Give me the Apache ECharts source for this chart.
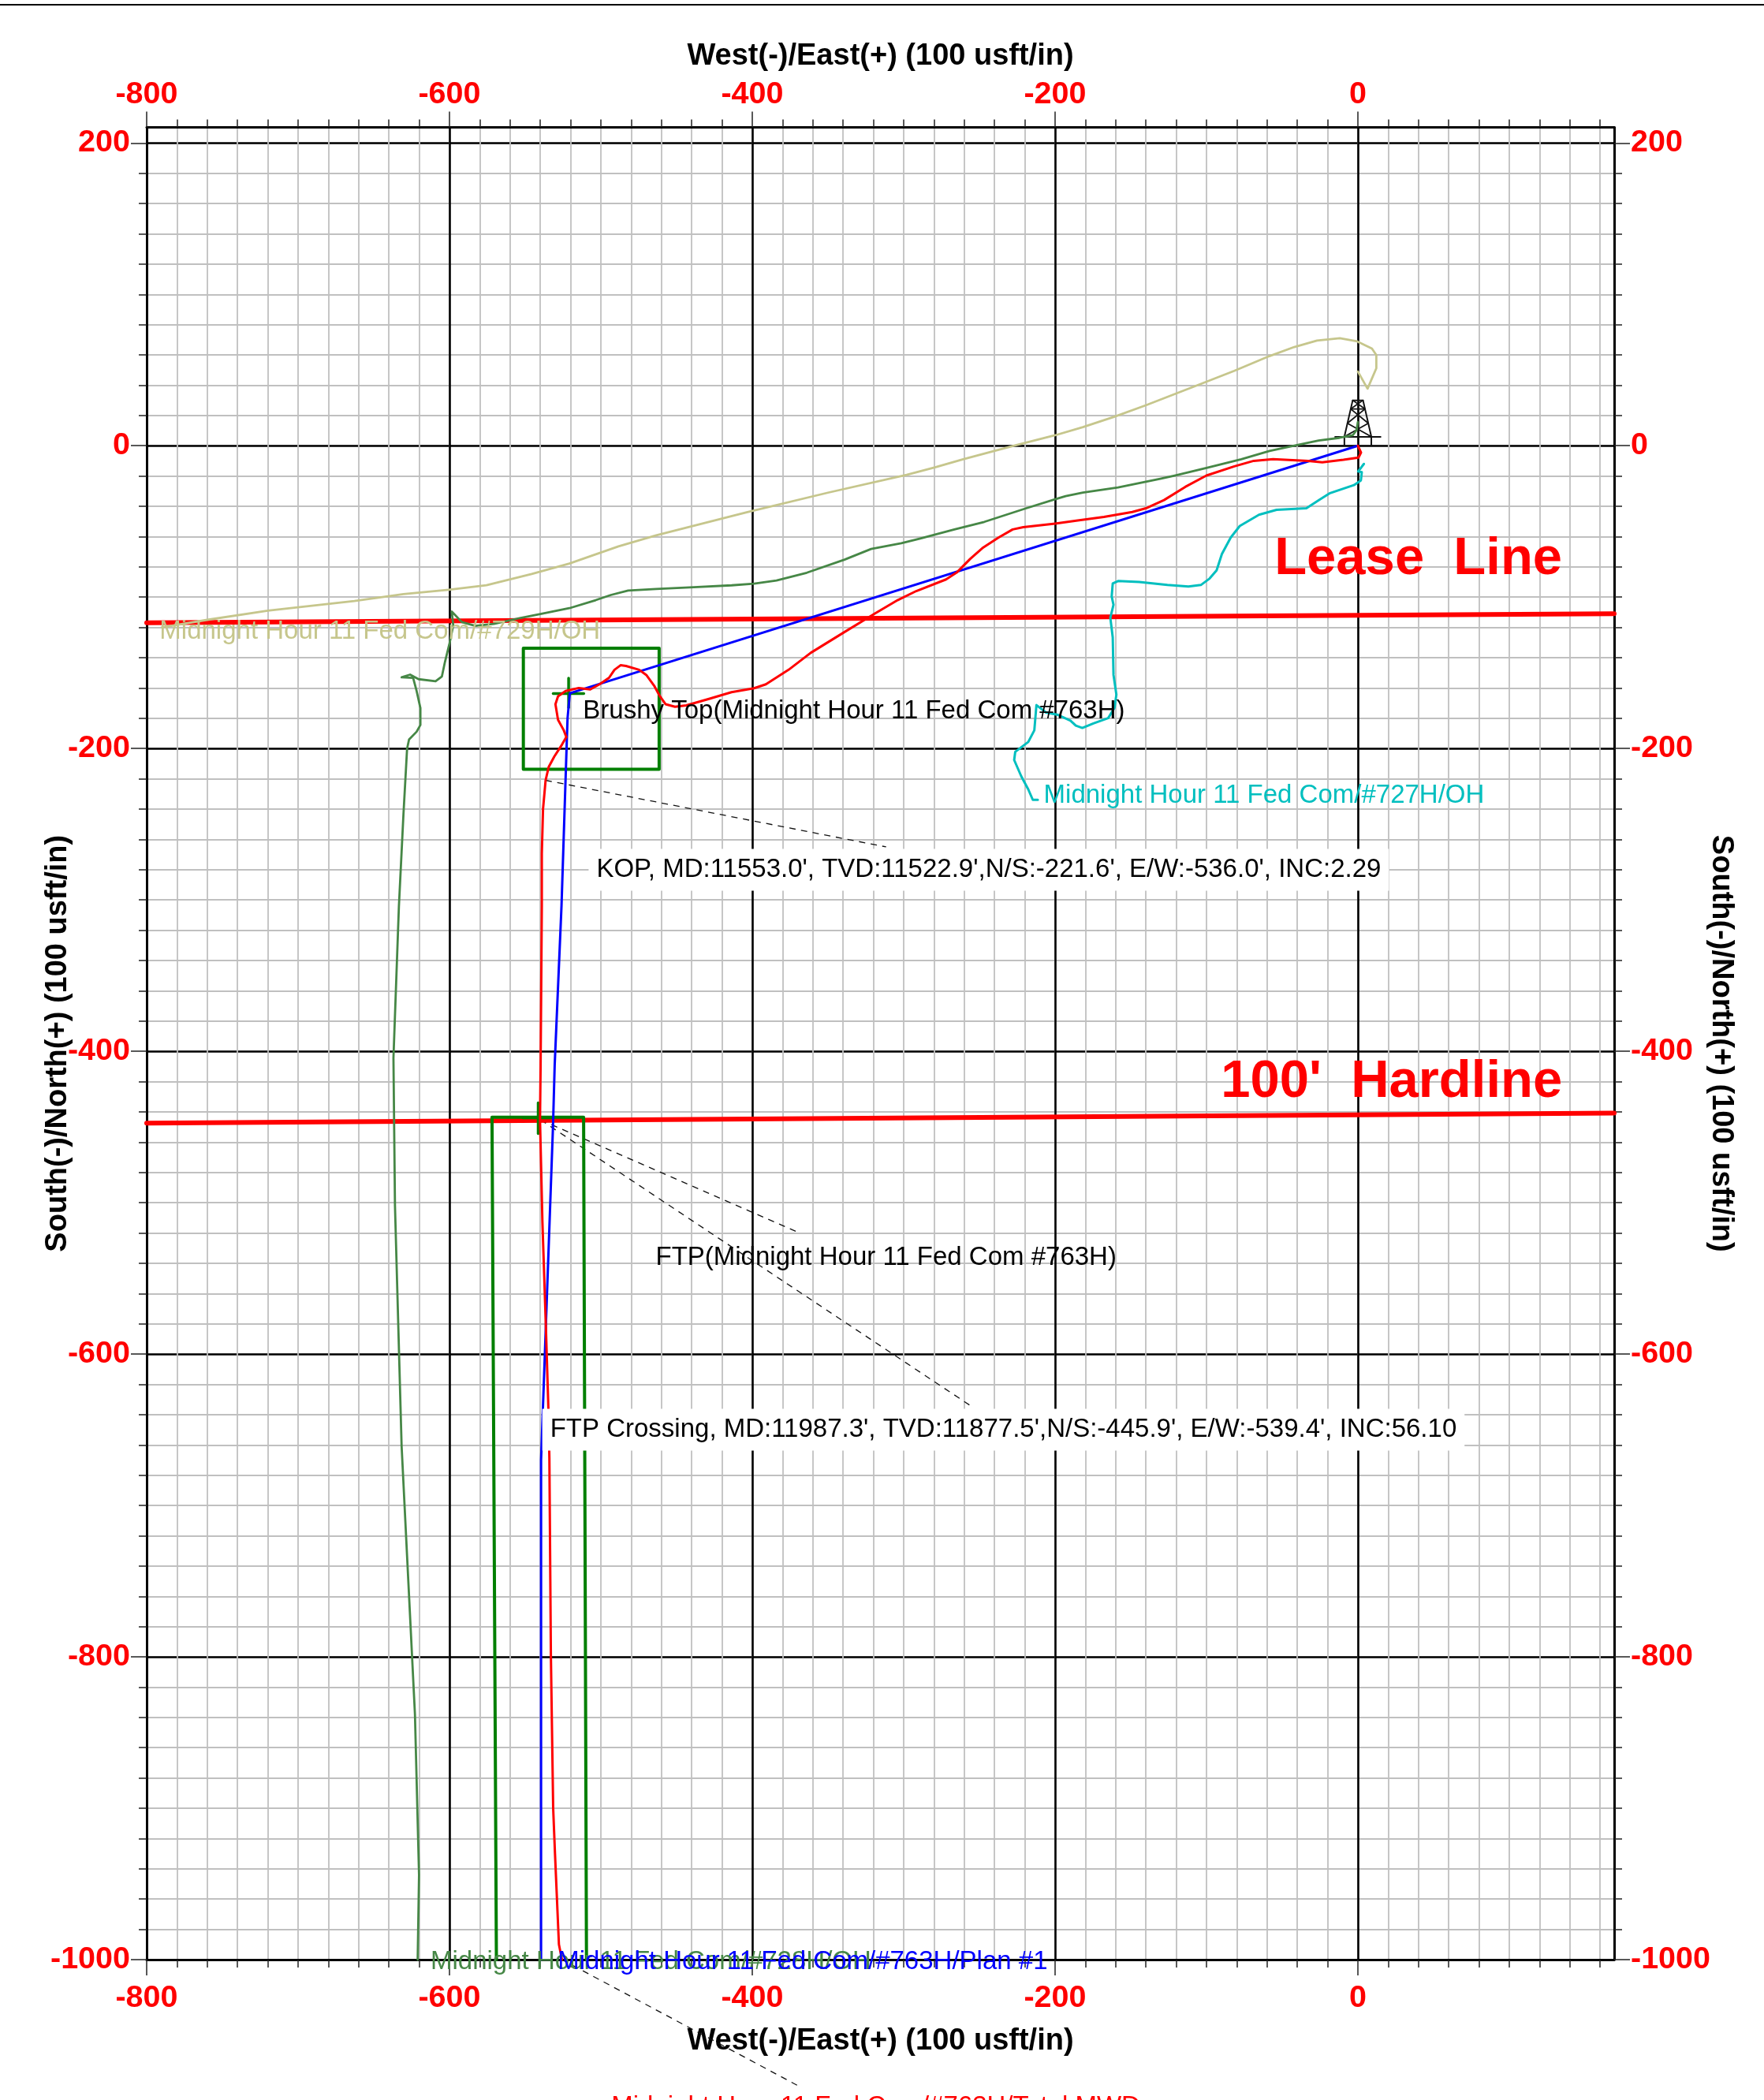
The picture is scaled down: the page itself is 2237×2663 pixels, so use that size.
<!DOCTYPE html>
<html><head><meta charset="utf-8">
<style>html,body{margin:0;padding:0;background:#fff}#c{width:2237px;height:2663px}</style>
<script src="https://cdn.jsdelivr.net/npm/echarts@6/dist/echarts.min.js"></script>
</head><body><div id="c"></div>
<script>
const xTicks=[-800,-600,-400,-200,0];
const yTicks=[200,0,-200,-400,-600,-800,-1000];
const planWell=[[0,0],[-520.5,-163.5],[-522,-180],[-522.5,-195],[-526,-304],[-530.5,-409],[-531.6,-449],[-537,-600],[-539.5,-670],[-539.5,-1000]];
const mwdWell=[[0,0],[2.1,-4.5],[0.5,-7.8],[-9.5,-9.3],[-23.5,-11],[-32.8,-10],[-56,-8.9],[-68.8,-10],[-81.6,-13.6],[-100,-19.7],[-114,-27.2],[-128,-35.9],[-140,-41.3],[-149,-43.8],[-167.7,-47],[-186,-49.5],[-200,-51.4],[-221,-53.8],[-228,-55.3],[-237.4,-60.7],[-248,-67.6],[-256,-74.7],[-265,-83.8],[-272,-88.3],[-291.7,-96],[-304,-102],[-319,-110.8],[-339,-123],[-361.4,-136.8],[-376,-148],[-391,-157.6],[-398.8,-160.2],[-413.7,-162.8],[-428.6,-167.2],[-443.6,-171.5],[-451,-172.4],[-457.3,-170.7],[-461,-165.5],[-464.8,-158.5],[-469.8,-151.6],[-474.7,-148],[-483.4,-145.5],[-487,-145],[-491,-148],[-494.6,-153.3],[-500.9,-157.6],[-507,-161],[-514.6,-160],[-523.3,-162],[-528.3,-165.5],[-530,-170.7],[-528.3,-181],[-524.5,-188],[-522.8,-192.4],[-525.8,-197.6],[-530.8,-205.4],[-534.5,-212.3],[-536.5,-221],[-538.2,-240],[-539,-269.6],[-539,-304],[-539.8,-409],[-540.2,-445.3],[-538.6,-513],[-536.3,-582.5],[-534.7,-634.6],[-534,-669],[-533,-800],[-531.5,-900],[-530.3,-930],[-527.7,-990],[-525.7,-1000]];
const well728=[[0,15.6],[-0.8,10.4],[-3.4,6.9],[-12.2,5.2],[-25.9,3.4],[-42,0],[-58.4,-3.5],[-77,-8.9],[-100,-14.7],[-121,-19.7],[-130.5,-21.8],[-158.4,-27.6],[-181.6,-30.9],[-193,-33.3],[-200,-35.4],[-219,-41.3],[-246.7,-50.3],[-266.5,-55.3],[-289,-61.3],[-301.6,-64.4],[-321.5,-68.2],[-339,-75.2],[-364,-83.9],[-384,-89],[-398.8,-91.1],[-413.7,-92.2],[-438.6,-93.4],[-463.5,-94.6],[-482,-95.7],[-493.4,-98.6],[-503.4,-102],[-520.8,-107.3],[-538,-110.8],[-553,-113.7],[-570.6,-117.7],[-583,-119],[-591.8,-116.5],[-598.5,-109.5],[-597.5,-118.6],[-600,-130.7],[-603,-142.9],[-605,-152.4],[-609.2,-155.6],[-620.4,-154.2],[-626,-151.2],[-631.6,-153],[-624,-153.3],[-621.7,-162],[-619.2,-173.3],[-619.2,-184.5],[-621.7,-188.9],[-626.7,-194],[-628,-200.2],[-630.4,-243.6],[-633.4,-304.3],[-637,-404.5],[-636,-501.8],[-631.6,-661],[-622.8,-838],[-620.1,-944],[-621,-1000]];
const well729=[[0,49],[6.4,37.7],[12.2,51.2],[12.2,59.9],[9.3,64.2],[-0.4,68.9],[-11.9,71],[-27,69.5],[-42,65.2],[-58.4,59.2],[-81.6,49.5],[-102.6,41.3],[-139.8,26.8],[-160.7,19.2],[-181.6,12.3],[-200,6.9],[-228,-0.2],[-260.7,-8.9],[-279.3,-14.3],[-298,-19.2],[-350,-31],[-403.7,-44],[-463.5,-59.2],[-488.4,-66.5],[-520.8,-77.8],[-545.7,-84.7],[-575.6,-92.2],[-600.5,-95.1],[-630.4,-98],[-662.8,-102.6],[-720,-109],[-760,-115],[-790,-120]];
const well727=[[4,-12],[0.2,-17],[2.6,-17.5],[2,-22.9],[-2.6,-26],[-18.8,-31.5],[-25.8,-35.9],[-34,-41.3],[-53.7,-42.3],[-65.3,-45.6],[-78,-53],[-84,-60.7],[-89.8,-71.5],[-93.3,-82.3],[-97.9,-87.7],[-103.7,-92],[-111.9,-93],[-125.8,-92],[-144.4,-90],[-158.4,-89.4],[-161.9,-91],[-162.6,-99.6],[-161.4,-105],[-163.5,-113.6],[-161.9,-126.6],[-161.4,-151.4],[-159.5,-164.4],[-160.7,-173],[-164.9,-179.9],[-174.7,-183.4],[-182,-186.4],[-186.3,-184.9],[-189.8,-181.6],[-198,-177.8],[-206,-176.2],[-212.3,-171.3],[-213.7,-188],[-217.7,-195.7],[-226.3,-202.2],[-227,-207.6],[-222.3,-218.4],[-217.7,-227],[-214.7,-233.9],[-211.4,-233.9]];
const leaseLine=[[-800,-117],[169.3,-111]];
const hardLine=[[-800,-447.4],[169.3,-440.8]];
const brushyBox=[[-551.2,-133.7],[-461.5,-133.7],[-461.5,-213.7],[-551.2,-213.7],[-551.2,-133.7]];
const ftpBox=[[-569,-1000],[-571.9,-443.6],[-511.4,-443.6],[-509.5,-1000]];
const brushyCrossH=[[-531.5,-163.7],[-511.3,-163.7]];
const brushyCrossV=[[-521.3,-153.6],[-521.3,-173]];
const ftpCrossH=[[-551.5,-444],[-531,-444]];
const ftpCrossV=[[-541.4,-434],[-541.4,-454.3]];
const leaderKop=[[-536.5,-221],[-311.6,-265]];
const leaderFtp=[[-539.8,-445.3],[-368.8,-520]];
const leaderCrossing=[[-539.8,-445.3],[-256,-634]];
const leaderTd=[[-525.7,-1000],[-370.3,-1083]];
const derrickFrame=[[-8.9,0],[-8.9,6],[-3.4,30],[3.4,30],[8.9,6],[8.9,0]];
const derrickBase=[[-15,5.9],[15,5.9]];
const derrickBraceA=[[-8.9,6],[6.9,14.8],[-4.7,24.3],[3.4,30]];
const derrickBraceB=[[8.9,6],[-6.9,14.8],[4.7,24.3],[-3.4,30]];
const derrickBraceC=[[-4.7,24.3],[4.7,24.3]];

const FONT='"Liberation Sans"';
const RED='#ff0000',BLUE='#0000ff',TAN='#c6c68c',DKG='#468746',CYAN='#00bfbf',GRN='#007f00';
function every20(a,b){const r=[];for(let v=a;v<=b;v+=20)r.push(v);return r;}
const xMinor=every20(-800,160), yMinor=every20(-1000,200);
const XMAX=169.3,YMAX=210.3;
function line(data,color,width,extra){return Object.assign({type:'line',data,symbol:'none',silent:true,clip:false,
  lineStyle:{color,width,cap:'round',join:'round'},z:3,animation:false},extra||{});}
function dash(data){return line(data,'#000',1.2,{lineStyle:{color:'#111',width:1.3,type:[8,7]},z:2});}
function note(x,y,text,color,opt){return {type:'scatter',data:[[x-1.5,y-1.5]],symbolSize:0,silent:true,clip:false,z:opt&&opt.bg?6:7,
  itemStyle:{opacity:1},
  label:{show:true,position:'right',distance:0,formatter:text,color,fontFamily:FONT,fontSize:opt&&opt.size||33,
    fontWeight:opt&&opt.bold?'bold':'normal',
    backgroundColor:opt&&opt.bg?'#fff':'transparent',padding:opt&&opt.bg?[10,10,10,10]:0}};}
function minorX(pos){return {type:'value',position:pos,min:-800,max:XMAX,interval:20,
  axisLine:{show:false,onZero:false},axisLabel:{show:false},axisTick:{show:true,length:10,customValues:xMinor,lineStyle:{color:'#222',width:1.5}},
  splitLine:{show:pos==='bottom',lineStyle:{color:'#c0c0c0',width:1.8}}};}
function minorY(pos){return {type:'value',position:pos,min:-1000,max:YMAX,interval:20,
  axisLine:{show:false,onZero:false},axisLabel:{show:false},axisTick:{show:true,length:10,customValues:yMinor,lineStyle:{color:'#222',width:1.5}},
  splitLine:{show:pos==='left',lineStyle:{color:'#c0c0c0',width:1.8}}};}
const tickLabel={show:true,color:RED,fontFamily:FONT,fontWeight:'bold',fontSize:39.5,formatter:v=>String(v)};
const nameStyle={color:'#000',fontFamily:FONT,fontWeight:'bold',fontSize:38};
function majorX(pos,gap,margin){return {type:'value',position:pos,min:-800,max:XMAX,interval:200,
  name:'West(-)/East(+) (100 usft/in)',nameLocation:'middle',nameGap:gap,nameMoveOverlap:false,nameTextStyle:nameStyle,
  axisLine:{show:true,onZero:false,lineStyle:{color:'#000',width:3}},
  axisLabel:Object.assign({margin,customValues:xTicks},tickLabel),
  axisTick:{show:true,length:20,customValues:xTicks,lineStyle:{color:'#222',width:1.5}},
  splitLine:{show:pos==='bottom',lineStyle:{color:'#000',width:2.6}}};}
function majorY(pos,gap,margin,rot){return {type:'value',position:pos,min:-1000,max:YMAX,interval:200,
  name:'South(-)/North(+) (100 usft/in)',nameLocation:'middle',nameGap:gap,nameMoveOverlap:false,nameRotate:rot,nameTextStyle:nameStyle,
  axisLine:{show:true,onZero:false,lineStyle:{color:'#000',width:3}},
  axisLabel:Object.assign({margin,customValues:yTicks,padding:[12,0,0,0]},tickLabel),
  axisTick:{show:true,length:20,customValues:yTicks,lineStyle:{color:'#222',width:1.5}},
  splitLine:{show:pos==='left',lineStyle:{color:'#000',width:2.6}}};}

const chart=echarts.init(document.getElementById('c'),null,{renderer:'canvas'});
chart.setOption({
  animation:false,backgroundColor:'#fff',
  grid:{left:186,right:190,top:161.5,bottom:178,containLabel:false},
  xAxis:[minorX('bottom'),minorX('top'),majorX('bottom',85,29),majorX('top',71,21)],
  yAxis:[minorY('left'),minorY('right'),majorY('left',93,21,90),majorY('right',116,21,-90)],
  graphic:[{type:'rect',shape:{x:0,y:5,width:2237,height:2},style:{fill:'#000'},z:10}],
  series:[
    dash(leaderKop),dash(leaderFtp),dash(leaderCrossing),dash(leaderTd),
    line(leaseLine,RED,6),line(hardLine,RED,6),
    line(brushyBox,GRN,4),line(ftpBox,GRN,4),
    line(brushyCrossH,GRN,3.5),line(brushyCrossV,GRN,3.5),line(ftpCrossH,GRN,3.5),line(ftpCrossV,GRN,3.5),
    line(derrickFrame,'#111',2),line(derrickBase,'#111',2),line(derrickBraceA,'#111',1.8),line(derrickBraceB,'#111',1.8),line(derrickBraceC,'#111',1.8),
    line(well729,TAN,2.8),line(well728,DKG,2.8),line(well727,CYAN,3),line(planWell,BLUE,3),line(mwdWell,RED,3),
    note(-790,-121.2,'Midnight Hour 11 Fed Com/#729H/OH',TAN),
    note(-206,-229.6,'Midnight Hour 11 Fed Com/#727H/OH',CYAN),
    note(-611,-1000,'Midnight Hour 11 Fed Com/#728H/OH',DKG),
    note(-527,-1000,'Midnight Hour 11 Fed Com/#763H/Plan #1',BLUE),
    note(-491.6,-1096,'Midnight Hour 11 Fed Com/#763H/Total MWD',RED),
    note(-510.3,-174,'Brushy Top(Midnight Hour 11 Fed Com #763H)','#000'),
    note(-462.3,-534.7,'FTP(Midnight Hour 11 Fed Com #763H)','#000'),
    note(-506.6,-278.6,"KOP, MD:11553.0', TVD:11522.9',N/S:-221.6', E/W:-536.0', INC:2.29",'#000',{bg:true}),
    note(-537.2,-648.4,"FTP Crossing, MD:11987.3', TVD:11877.5',N/S:-445.9', E/W:-539.4', INC:56.10",'#000',{bg:true}),
    note(-53.6,-73.5,'Lease  Line',RED,{size:67,bold:true}),
    note(-89,-419,"100'  Hardline",RED,{size:67,bold:true})
  ]
});
</script></body></html>
